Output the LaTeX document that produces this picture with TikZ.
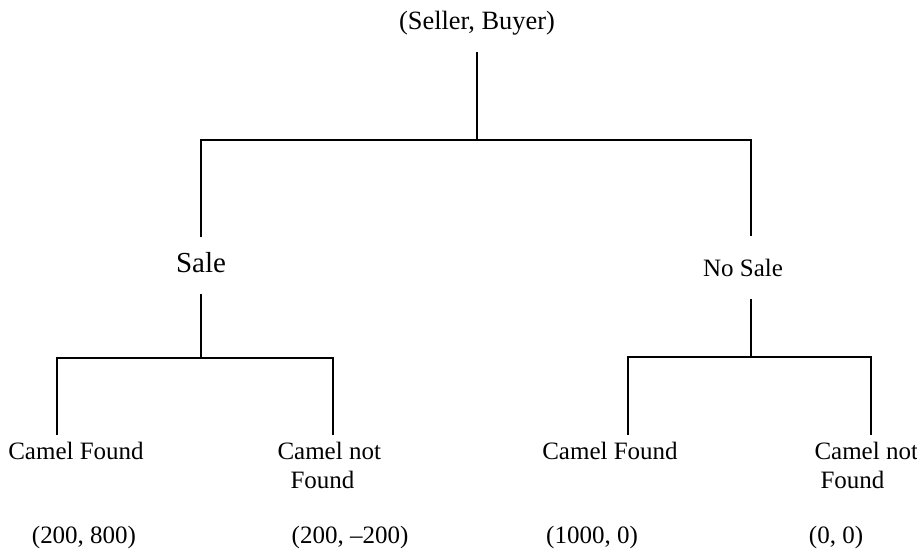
\documentclass[tikz,border=0pt]{standalone}
\usepackage{fontspec}
\setmainfont{Liberation Serif}
\usepackage{tikz}

\tikzset{
  lab/.style={inner sep=0pt, text height=8.5pt, text depth=2.5pt, font=\fontsize{12.5}{14.5}\selectfont},
  leaf/.style={inner sep=0pt, outer sep=3.75pt, anchor=north, align=left, font=\fontsize{12.5}{14.5}\selectfont},
  pay/.style={inner sep=0pt, anchor=base, font=\fontsize{12.5}{14.5}\selectfont},
}

\begin{document}
\begin{tikzpicture}[x=0.5pt, y=-0.5pt, line width=0.85pt]
        \useasboundingbox (0,0) rectangle (917,550);
        % Nodes
        \node[lab, outer sep=8.5pt, font=\fontsize{13.2}{15}\selectfont] (root) at (477, 24) {(Seller, Buyer)};
        \node[lab, outer sep=8pt, text height=9.6pt, text depth=2.9pt, font=\fontsize{14.5}{17}\selectfont] (sale) at (201, 266) {Sale};
        \node[lab, outer sep=8.5pt] (nosale) at (743, 271) {No Sale};
        \node[leaf] (cf1) at (76, 435) {Camel Found};
        \node[leaf, anchor=north west] (cn1) at (270, 435) {Camel not\\\hspace*{6.5pt}Found};
        \node[leaf] (cf2) at (610, 435) {Camel Found};
        \node[leaf, anchor=north west] (cn2) at (807, 435) {Camel not\\\hspace*{3pt}Found};
        \node[pay] (p1) at (84, 544) {(200, 800)};
        \node[pay] (p2) at (350, 544) {(200, --200)};
        \node[pay] (p3) at (592, 544) {(1000, 0)};
        \node[pay] (p4) at (836, 544) {(0, 0)};
        % Branch points
        \coordinate (top) at (477, 140);
        \coordinate (topl) at (201, 140);
        \coordinate (topr) at (751, 140);
        \coordinate (salel) at (57, 358);
        \coordinate (salej) at (201, 358);
        \coordinate (saler) at (333, 358);
        \coordinate (nol) at (628, 357);
        \coordinate (noj) at (751, 357);
        \coordinate (nor) at (871, 357);
        % Edges
        \draw (root) -- (top);
        \draw[shorten >=3.5pt] (sale) -- (topl) -- (topr) -- (topr |- nosale.north);
        \draw (sale) -- (salej);
        \draw (noj |- nosale.south) -- (noj);
        \draw (salel |- cf1.north) -- (salel) -- (saler) -- (saler |- cn1.north);
        \draw (nol |- cf2.north) -- (nol) -- (nor) -- (nor |- cn2.north);
\end{tikzpicture}
\end{document}
